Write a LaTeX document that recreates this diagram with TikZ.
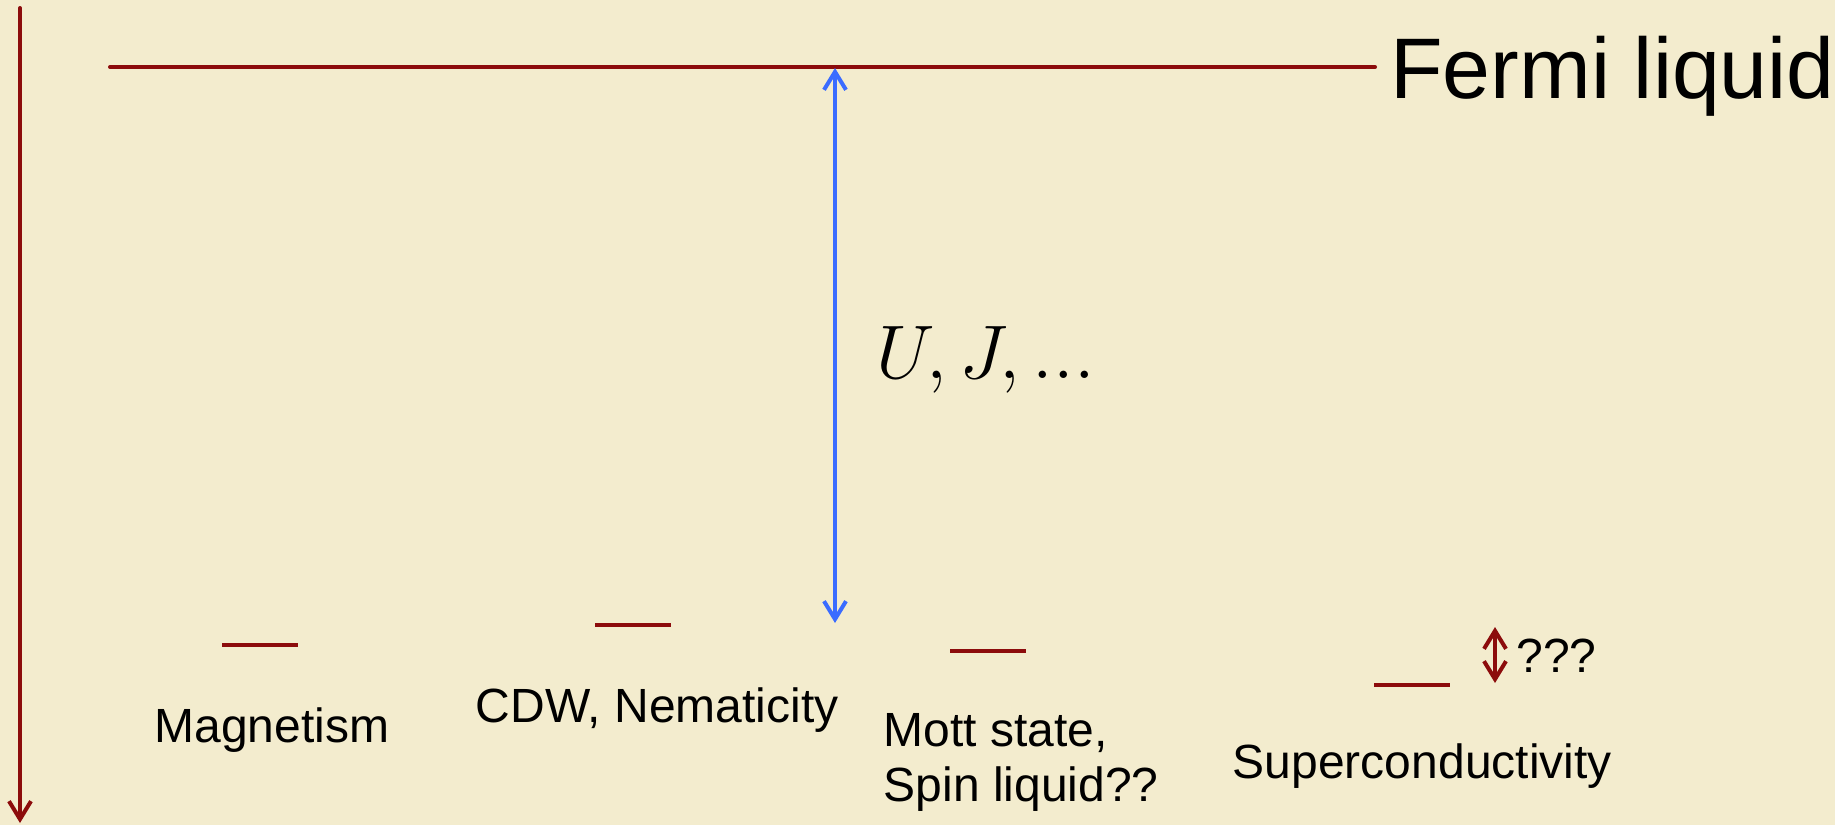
\RequirePackage{fix-cm}
\documentclass[tikz,border=0pt]{standalone}
\usepackage{fontspec}
\setmainfont{Liberation Sans}
\usetikzlibrary{arrows.meta}

\definecolor{levelred}{RGB}{140,12,12}
\definecolor{gapblue}{RGB}{58,108,255}
\definecolor{parchment}{RGB}{243,236,206}

\begin{document}
\begin{tikzpicture}[x=0.5pt,y=-0.5pt,>={Straight Barb[length=9pt,width=11pt]},line cap=round,line join=round,
  levelbar/.style={fill=levelred,inner sep=0pt,minimum width=38pt,minimum height=2pt},
  phase/.style={inner sep=0pt,font=\fontsize{24}{27.5}\selectfont}]
\fill[parchment] (0,0) rectangle (1835,825);
\useasboundingbox (0,0) rectangle (1835,825);
% energy axis
\coordinate (axisTop) at (20,8);
\coordinate (axisBot) at (20,823);
\draw[->,line width=2pt,levelred] (axisTop) -- (axisBot);
% Fermi liquid level
\coordinate (flStart) at (110,67);
\node[anchor=base west,inner xsep=7.5pt,inner ysep=0pt,font=\fontsize{43}{50}\selectfont] (fermi) at (1375,98) {Fermi liquid};
\draw[line width=2pt,levelred] (flStart) -- (flStart -| fermi.west);
% interaction scale
\coordinate (gapTop) at (835,68);
\coordinate (gapBot) at (835,623);
\draw[<->,line width=2pt,gapblue] (gapTop) -- (gapBot);
\node[anchor=base west,inner sep=0pt,font=\fontsize{38}{44}\selectfont] (coupling) at (876,378) {$U,J,...$};
% ordered states
\node[levelbar] (magBar) at (260,645) {};
\node[phase,anchor=base west] (magText) at (154,742) {Magnetism};
\node[levelbar] (cdwBar) at (633,625) {};
\node[phase,anchor=base west] (cdwText) at (475.5,722) {CDW, Nematicity};
\node[levelbar] (mottBar) at (988,651) {};
\node[phase,anchor=north west,align=left] (mottText) at (883.5,713) {Mott state,\\Spin liquid??};
\node[levelbar] (scBar) at (1411.5,685) {};
\node[phase,anchor=base west] (scText) at (1232.5,778) {Superconductivity};
% unknown splitting
\coordinate (scGapTop) at (1495,627);
\coordinate (scGapBot) at (1495,683);
\draw[<->,line width=2pt,levelred] (scGapTop) -- (scGapBot);
\node[phase,anchor=base west] (gapText) at (1516,672) {???};
\end{tikzpicture}
\end{document}
